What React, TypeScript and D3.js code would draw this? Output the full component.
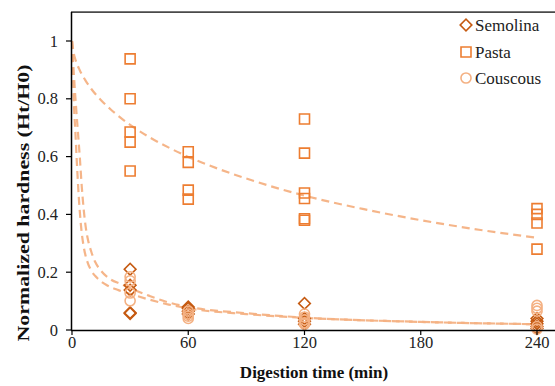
import React from 'react';
import * as d3 from 'd3';

const W = 555;
const H = 386;

const xTicks = [0, 60, 120, 180, 240];
const yTicks = [0, 0.2, 0.4, 0.6, 0.8, 1];

const seriesNames = ['Semolina', 'Pasta', 'Couscous'];

const semolinaTimes = [30, 30, 30, 30, 30, 60, 60, 60, 60, 120, 120, 120, 120, 240, 240, 240, 240, 240];
const semolinaHardness = [0.21, 0.155, 0.138, 0.06, 0.057, 0.08, 0.075, 0.065, 0.055, 0.092, 0.04, 0.03, 0.02, 0.04, 0.03, 0.022, 0.012, 0.005];

const pastaTimes = [30, 30, 30, 30, 30, 60, 60, 60, 60, 120, 120, 120, 120, 120, 120, 240, 240, 240, 240];
const pastaHardness = [0.938, 0.8, 0.685, 0.65, 0.55, 0.617, 0.58, 0.484, 0.453, 0.73, 0.612, 0.474, 0.455, 0.385, 0.38, 0.42, 0.4, 0.37, 0.28];

const couscousTimes = [30, 30, 30, 30, 60, 60, 60, 60, 120, 120, 120, 120, 120, 240, 240, 240, 240, 240];
const couscousHardness = [0.184, 0.17, 0.128, 0.101, 0.065, 0.055, 0.048, 0.04, 0.055, 0.045, 0.035, 0.025, 0.02, 0.085, 0.075, 0.065, 0.012, 0.003];

// trend lines
const semolinaFitTimes = [0, 1, 2, 3, 4, 5, 6, 7, 8, 10, 12, 15, 20, 25, 30, 40, 50, 60, 90, 120, 180, 240];
const semolinaFitValues = [1, 0.88, 0.78, 0.69, 0.6, 0.5, 0.42, 0.36, 0.32, 0.27, 0.235, 0.205, 0.175, 0.16, 0.145, 0.118, 0.095, 0.08, 0.058, 0.043, 0.028, 0.02];

const couscousFitTimes = [0, 0.5, 1, 1.7, 2.5, 3.5, 4.8, 6, 8, 10, 13, 18, 24, 30, 40, 50, 60, 90, 120, 180, 240];
const couscousFitValues = [1, 0.88, 0.78, 0.69, 0.58, 0.46, 0.35, 0.29, 0.235, 0.205, 0.18, 0.155, 0.138, 0.125, 0.105, 0.088, 0.075, 0.055, 0.042, 0.028, 0.02];

const pastaFitTimes = [0, 1, 2, 4, 7, 10, 15, 20, 25, 30, 40, 50, 60, 75, 90, 120, 150, 180, 210, 240];
const pastaFitValues = [1, 0.954, 0.931, 0.899, 0.863, 0.834, 0.795, 0.763, 0.735, 0.71, 0.667, 0.631, 0.599, 0.559, 0.524, 0.465, 0.419, 0.38, 0.347, 0.319];

const colSemolina = '#C55A11';
const colPasta = '#ED7D31';
const colCouscous = '#F4B183';
const colFit = '#F4B183';

const FONT = '"Liberation Serif", "Times New Roman", serif';

export default function App() {
  const x = d3.scaleLinear().domain([0, 240]).range([72, 537]);
  const y = d3.scaleLinear().domain([0, 1]).range([330, 41]);
  const yTop = y(1.1);

  const zip = (ts: number[], vs: number[]) => ts.map((t, i) => [t, vs[i]] as [number, number]);

  const line = d3
    .line<[number, number]>()
    .x((d) => x(d[0]))
    .y((d) => y(d[1]))
    .curve(d3.curveMonotoneX);

  const sq = d3.symbol().type(d3.symbolSquare).size(100)()!;
  const dia = d3.symbol().type(d3.symbolSquare).size(68)()!;
  const circ = d3.symbol().type(d3.symbolCircle).size(80)()!;

  const series = [
    { name: seriesNames[0], pts: zip(semolinaTimes, semolinaHardness), path: dia, rot: 45, color: colSemolina },
    { name: seriesNames[1], pts: zip(pastaTimes, pastaHardness), path: sq, rot: 0, color: colPasta },
    { name: seriesNames[2], pts: zip(couscousTimes, couscousHardness), path: circ, rot: 0, color: colCouscous },
  ];

  const fits = [
    zip(semolinaFitTimes, semolinaFitValues),
    zip(pastaFitTimes, pastaFitValues),
    zip(couscousFitTimes, couscousFitValues),
  ];

  const legendY = [25, 52, 78];

  return (
    <svg width={W} height={H} style={{ position: 'absolute', left: 0, top: 0, background: '#fff' }}>
      <rect x={0} y={0} width={W} height={H} fill="#fff" />
      {/* top border */}
      <line x1={71} x2={W} y1={yTop} y2={yTop} stroke="#4a4a4a" strokeWidth={1.8} />
      {/* trend lines */}
      {fits.map((f, i) => (
        <path
          key={i}
          d={line(f)!}
          fill="none"
          stroke={colFit}
          strokeWidth={2.2}
          strokeDasharray="8 5"
          opacity={0.95}
        />
      ))}
      {/* markers */}
      {series.map((s) => (
        <g key={s.name}>
          {s.pts.map((p, i) => (
            <path
              key={i}
              d={s.path}
              transform={`translate(${x(p[0])},${y(p[1])}) rotate(${s.rot})`}
              fill="none"
              stroke={s.color}
              strokeWidth={1.6}
            />
          ))}
        </g>
      ))}
      {/* axes */}
      <line x1={71.5} x2={71.5} y1={yTop} y2={330.5} stroke="#000" strokeWidth={1.5} />
      <line x1={71} x2={W} y1={330.5} y2={330.5} stroke="#000" strokeWidth={1.5} />
      {yTicks.map((t) => (
        <g key={t}>
          <line x1={66} x2={71} y1={y(t)} y2={y(t)} stroke="#000" strokeWidth={1.2} />
          <text x={58} y={y(t) + 5.5} textAnchor="end" fontFamily={FONT} fontSize={16.5} fill="#222">
            {d3.format('')(t)}
          </text>
        </g>
      ))}
      {xTicks.map((t) => (
        <g key={t}>
          <line x1={x(t)} x2={x(t)} y1={330} y2={335} stroke="#000" strokeWidth={1.2} />
          <text x={x(t)} y={348} textAnchor="middle" fontFamily={FONT} fontSize={16.5} fill="#222">
            {t}
          </text>
        </g>
      ))}
      <text x={314} y={378} textAnchor="middle" fontFamily={FONT} fontSize={17} fontWeight="bold" fill="#111">
        Digestion time (min)
      </text>
      <text
        transform={`translate(29,203) rotate(-90)`}
        textAnchor="middle"
        fontFamily={FONT}
        fontSize={17}
        fontWeight="bold"
        fill="#111"
        textLength={277}
        lengthAdjust="spacingAndGlyphs"
      >
        Normalized hardness (Ht/H0)
      </text>
      {/* legend */}
      {series.map((s, i) => (
        <g key={s.name}>
          <path
            d={s.path}
            transform={`translate(466,${legendY[i]}) rotate(${s.rot})`}
            fill="none"
            stroke={s.color}
            strokeWidth={1.6}
          />
          <text x={475} y={legendY[i] + 6} fontFamily={FONT} fontSize={17} fill="#222">
            {s.name}
          </text>
        </g>
      ))}
    </svg>
  );
}
